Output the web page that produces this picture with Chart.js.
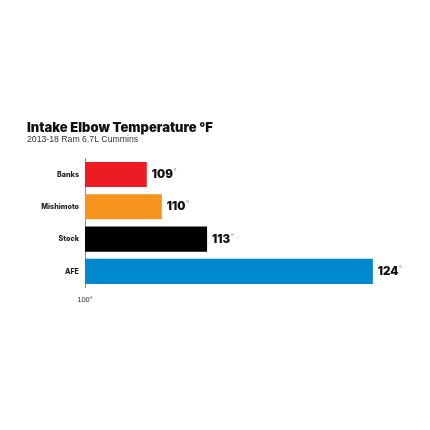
<!DOCTYPE html>
<html>
<head>
<meta charset="utf-8">
<script src="https://cdn.jsdelivr.net/npm/chart.js"></script>
<style>
  html, body { margin: 0; padding: 0; background: #fff; }
  canvas { display: block; }
</style>
</head>
<body>
<canvas id="bar-chart" width="430" height="430"></canvas>
<script>
const categories = ['Banks', 'Mishimoto', 'Stock', 'AFE'];
const temps = [109, 110, 113, 124];
const barColors = ['#ED1C24', '#F7941D', '#000000', '#0088CE'];
const xTickLabels = ['100°'];
const axisMin = 104.9;
const axisMax = 125.8;

const heavy = 'Inter, "DejaVu Sans", sans-serif';
const plain = '"Liberation Sans", Arial, sans-serif';

// number + small degree sign at the end of each bar
const valueLabels = {
    id: 'valueLabels',
    afterDatasetsDraw(chart) {
        const ctx = chart.ctx;
        const meta = chart.getDatasetMeta(0);
        ctx.save();
        ctx.textBaseline = 'middle';
        ctx.textAlign = 'left';
        meta.data.forEach((bar, i) => {
            const txt = String(temps[i]);
            let x = bar.x + 5;
            ctx.font = '900 11.5px ' + heavy;
            ctx.fillStyle = '#111';
            ctx.fillText(txt, x, bar.y);
            x += ctx.measureText(txt).width + 0.5;
            ctx.font = '400 8px ' + plain;
            ctx.fillStyle = '#666';
            ctx.fillText('°', x, bar.y - 2.5);
        });
        ctx.restore();
    }
};

new Chart(document.getElementById('bar-chart'), {
    type: 'bar',
    data: {
        labels: categories,
        datasets: [{
            data: temps,
            backgroundColor: barColors,
            categoryPercentage: 1,
            barPercentage: 0.78
        }]
    },
    options: {
        indexAxis: 'y',
        responsive: false,
        animation: false,
        devicePixelRatio: 1,
        layout: { padding: { top: 121.5, left: 27, right: 30, bottom: 122.5 } },
        plugins: {
            legend: { display: false },
            tooltip: { enabled: false },
            title: {
                display: true,
                text: 'Intake Elbow Temperature °F',
                align: 'start',
                color: '#111',
                font: { family: heavy, size: 13, weight: 900, lineHeight: 1.05 },
                padding: 0
            },
            subtitle: {
                display: true,
                text: '2013-18 Ram 6.7L Cummins',
                align: 'start',
                color: '#333',
                font: { family: plain, size: 8.7, lineHeight: 1 },
                padding: { top: 0, bottom: 14.5 }
            }
        },
        scales: {
            x: {
                min: axisMin,
                max: axisMax,
                grid: { display: false, drawTicks: false },
                border: { display: false },
                afterBuildTicks: (scale) => { scale.ticks = [{ value: scale.min }]; },
                afterFit: (scale) => { scale.height = 20; },
                ticks: {
                    padding: 8,
                    color: '#333',
                    font: { family: plain, size: 7.5 },
                    callback: (v, i) => xTickLabels[i]
                }
            },
            y: {
                grid: { display: false, drawTicks: false },
                border: { display: true, color: '#8a8a8a', width: 1 },
                afterFit: (scale) => { scale.width = 58; },
                ticks: {
                    padding: 6,
                    color: '#222',
                    font: { family: 'Inter, sans-serif', size: 7.2, weight: 800 }
                }
            }
        }
    },
    plugins: [valueLabels]
});
</script>
</body>
</html>
